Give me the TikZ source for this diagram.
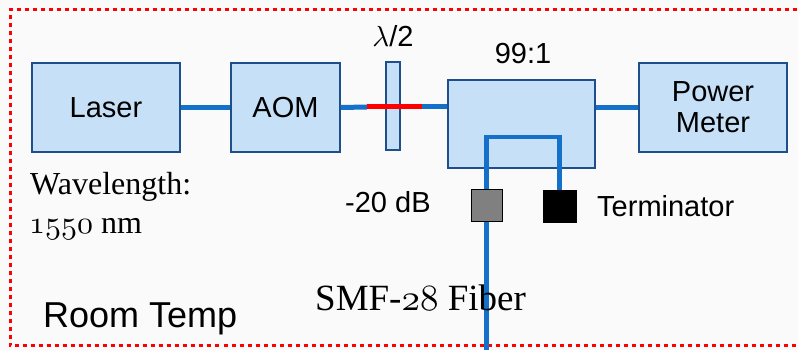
\documentclass[tikz,border=0pt]{standalone}
\usepackage{fontspec}
\setsansfont{Liberation Sans}
\setmainfont{Liberation Serif}
\font\osfa=cmmi10 at 32pt
\font\osfb=cmmi10 at 37pt
\font\lamfont=cmmi10 at 29pt
\definecolor{boxfill}{RGB}{198,224,247}
\definecolor{boxborder}{RGB}{31,78,140}
\definecolor{fiberblue}{RGB}{21,112,202}
\definecolor{bgc}{RGB}{250,250,250}
\definecolor{termgray}{RGB}{128,128,128}
\begin{document}
\begin{tikzpicture}[x=1pt,y=-1pt,
  box/.style={draw=boxborder, line width=1.5pt, fill=boxfill, inner sep=0pt, align=center,
    font=\sffamily\fontsize{29}{33}\selectfont},
  fiber/.style={draw=fiberblue, line width=5pt},
  fiberv/.style={draw=fiberblue, line width=4.5pt},
  redfiber/.style={draw=red, line width=5pt},
  lbl/.style={inner sep=0pt, font=\sffamily\fontsize{29}{33}\selectfont},
  serif/.style={inner sep=0pt, font=\rmfamily\fontsize{32}{36}\selectfont},
  sq/.style={draw=black, line width=1pt, inner sep=0pt}]
\useasboundingbox (0,0) rectangle (798,350);
\clip (0,0) rectangle (798,350);
\fill[bgc] (0,0) rectangle (798,350);
% border
\draw[red, line width=3pt, dash pattern=on 4pt off 4pt] (805,10) -- (10,10) -- (10,345.5) -- (805,345.5);
% boxes
\node[box, minimum width=148pt, minimum height=89pt] (laser) at (106,107.5) {Laser};
\node[box, minimum width=109pt, minimum height=89pt] (aom) at (285.5,107.5) {AOM};
\node[box, minimum width=14pt, minimum height=88pt] (wp) at (393,106) {};
\node[box, minimum width=147pt, minimum height=88pt] (coupler) at (521.5,124) {};
\node[box, minimum width=148pt, minimum height=89pt] (pm) at (713,107.5) {Power\\[-2pt]Meter};
% terminators
\node[sq, fill=termgray, minimum width=31pt, minimum height=32pt] (gray) at (486.5,205) {};
\node[sq, fill=black, minimum width=33pt, minimum height=32pt] (term) at (559.5,206) {};
\coordinate (r1) at (367,107);
\coordinate (r2) at (422,107);
\coordinate (lt) at (487,137);
\coordinate (bot) at (487,355);
% connectors
\draw[fiber] (laser.east) -- (aom.west);
\draw[fiber] (aom.east) -- (r1);
\draw[redfiber] (r1) -- (r2);
\draw[fiber] (r2) -- (r2 -| coupler.west);
\draw[fiber] (pm.west -| coupler.east) -- (pm.west);
\draw[fiberv, line join=miter] (gray.north) |- (term.north |- lt) -- (term.north);
\draw[fiberv] (gray.south) -- (gray.south |- bot);
% labels
\node[lbl, anchor=base] (ratio) at (523,64) {99:1};
\node[lbl, anchor=base] (lam) at (393,47) {{\lamfont\char21}/2};
\node[lbl, anchor=base west] (db) at (345,212) {-20 dB};
\node[lbl, anchor=base west] (tlabel) at (597,216) {Terminator};
\node[serif, anchor=base west] (wl) at (30,194) {Wavelength:};
\node[serif, anchor=base west] (nm) at (29,233) {{\osfa 1550} nm};
\node[serif, anchor=base west, font=\rmfamily\fontsize{37}{42}\selectfont] (smf) at (315,310) {SMF-{\osfb 28} Fiber};
\node[lbl, anchor=base west, font=\sffamily\fontsize{36}{40}\selectfont] (room) at (43,327) {Room Temp};
\end{tikzpicture}
\end{document}
